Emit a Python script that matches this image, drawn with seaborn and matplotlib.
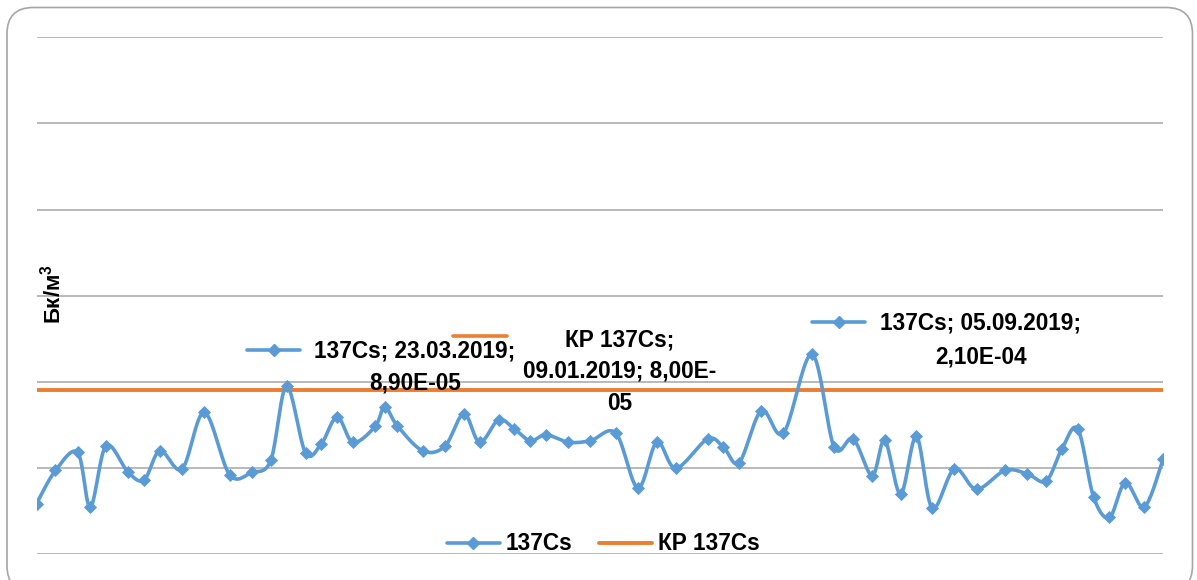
import numpy as np
import pandas as pd
import matplotlib
matplotlib.use("Agg")
import matplotlib.pyplot as plt
import matplotlib.dates as mdates
from matplotlib.patches import FancyBboxPatch
from matplotlib.lines import Line2D
import seaborn as sns

# ---------------- data ----------------
dates = ["2019-01-03", "2019-01-09", "2019-01-16", "2019-01-20", "2019-01-25",
         "2019-02-01", "2019-02-06", "2019-02-11", "2019-02-18", "2019-02-25",
         "2019-03-05", "2019-03-12", "2019-03-18", "2019-03-23", "2019-03-29",
         "2019-04-03", "2019-04-08", "2019-04-13", "2019-04-20", "2019-04-23",
         "2019-04-27", "2019-05-05", "2019-05-12", "2019-05-18", "2019-05-23",
         "2019-05-29", "2019-06-03", "2019-06-08", "2019-06-13", "2019-06-20",
         "2019-06-27", "2019-07-05", "2019-07-12", "2019-07-18", "2019-07-24",
         "2019-08-03", "2019-08-08", "2019-08-13", "2019-08-20", "2019-08-27",
         "2019-09-05", "2019-09-12", "2019-09-18", "2019-09-24", "2019-09-28",
         "2019-10-03", "2019-10-08", "2019-10-13", "2019-10-20", "2019-10-27",
         "2019-11-05", "2019-11-12", "2019-11-18", "2019-11-23", "2019-11-28",
         "2019-12-03", "2019-12-08", "2019-12-13", "2019-12-19", "2019-12-25"]
cs137 = [3.86e-6, 9.4e-6, 1.52e-5, 3.54e-6, 1.82e-5,
         8.9e-6, 7.3e-6, 1.59e-5, 9.8e-6, 4.43e-5,
         8.4e-6, 8.9e-6, 1.23e-5, 8.9e-5, 1.50e-5,
         1.92e-5, 3.92e-5, 1.99e-5, 3.05e-5, 5.12e-5,
         3.10e-5, 1.59e-5, 1.79e-5, 4.28e-5, 1.99e-5,
         3.64e-5, 2.84e-5, 2.08e-5, 2.44e-5, 2.0e-5,
         2.08e-5, 2.55e-5, 5.9e-6, 2.0e-5, 1.0e-5,
         2.18e-5, 1.76e-5, 1.16e-5, 4.63e-5, 2.55e-5,
         2.1e-4, 1.76e-5, 2.19e-5, 8.2e-6, 2.10e-5,
         5.0e-6, 2.33e-5, 3.44e-6, 9.8e-6, 5.7e-6,
         9.4e-6, 8.6e-6, 7.1e-6, 1.68e-5, 2.84e-5,
         4.6e-6, 2.68e-6, 6.8e-6, 3.54e-6, 1.29e-5]
kp_value = 8.0e-5
series_names = ["137Cs", "КР 137Cs"]
labels = ["137Cs; 23.03.2019;\n8,90E-05",
          "КР 137Cs;\n09.01.2019; 8,00E-\n05",
          "137Cs; 05.09.2019;\n2,10E-04"]
y_label = r"Бк/м$^{\mathbf{3}}$"

BLUE = "#5B9BD5"
ORANGE = "#ED7D31"

# ---------------- figure ----------------
W, H = 1197, 580
DPI = 100
sns.set_theme(style="white")
plt.rcParams["font.family"] = ["Liberation Sans", "DejaVu Sans"]
plt.rcParams["text.color"] = "black"
plt.rcParams["mathtext.fontset"] = "custom"
plt.rcParams["mathtext.bf"] = "Liberation Sans:bold"
plt.rcParams["mathtext.rm"] = "Liberation Sans"
fig = plt.figure(figsize=(W / DPI, H / DPI), dpi=DPI)

def fx(px):
    return px / W

def fy(py):
    return 1 - py / H

# chart border
border = FancyBboxPatch((fx(7), fy(592)), fx(1192.5) - fx(7), fy(7.5) - fy(592),
                        boxstyle="round,pad=0,rounding_size=0.022",
                        transform=fig.transFigure, facecolor="none",
                        edgecolor="#A6A6A6", linewidth=1.2, mutation_aspect=W / H,
                        zorder=-1)
fig.patches.append(border)

ax = fig.add_axes([fx(36.5), fy(554.3), fx(1163.3) - fx(36.5), fy(37.3) - fy(554.3)])
ax.set_facecolor("none")
ax.set_zorder(2)

df = pd.DataFrame({"date": pd.to_datetime(dates), "value": cs137})
xnum = mdates.date2num(df["date"])
ylog = np.log10(df["value"].to_numpy())

# Excel-like smoothed curve (Bezier through points in display space: x, log y)
def catmull(x, y, n=20):
    P = np.column_stack([x, y])
    P = np.vstack([P[0], P, P[-1]])
    out = []
    for i in range(1, len(P) - 2):
        p0, p1, p2, p3 = P[i - 1], P[i], P[i + 1], P[i + 2]
        c1 = p1 + (p2 - p0) / 6
        c2 = p2 - (p3 - p1) / 6
        t = np.linspace(0, 1, n, endpoint=(i == len(P) - 3))[:, None]
        b = ((1 - t) ** 3) * p1 + 3 * ((1 - t) ** 2) * t * c1 + 3 * (1 - t) * t ** 2 * c2 + t ** 3 * p2
        out.append(b)
    out = np.vstack(out)
    return out[:, 0], out[:, 1]

sx, sy = catmull(xnum, ylog)
smooth = pd.DataFrame({"date": mdates.num2date(sx), "value": 10 ** sy})

ax.set_yscale("log")
for dec in range(-6, 1):
    ax.axhline(10.0 ** dec, color="#A6A6A6", lw=1.1, zorder=0)

kp_df = pd.DataFrame({"date": [df["date"].iloc[0], df["date"].iloc[-1]], "value": [kp_value, kp_value]})
sns.lineplot(data=kp_df, x="date", y="value", ax=ax, color=ORANGE, lw=2.8, zorder=2)

sns.lineplot(data=smooth, x="date", y="value", ax=ax, color=BLUE, lw=2.6, zorder=3)
sns.scatterplot(data=df, x="date", y="value", ax=ax, color=BLUE, marker="D", s=45,
                edgecolor=BLUE, linewidth=0, zorder=4)

ax.set_xlim(xnum[0], xnum[-1])
ax.set_ylim(1e-6, 1)
ax.set_xlabel("")
ax.set_ylabel("")
ax.set_xticks([])
ax.set_yticks([])
ax.minorticks_off()
for s in ax.spines.values():
    s.set_visible(False)

# y label
fig.text(fx(53), fy(294), y_label, rotation=90, ha="center", va="center",
         fontsize=16, fontweight="bold", color="black")

FS = 16.3
def lab(xpx, ypx, s):
    fig.text(fx(xpx), fy(ypx), s, ha="center", va="center",
             fontsize=FS, fontweight="bold", color="black", zorder=5)

l0 = labels[0].split("\n")
lab(415, 351, l0[0]); lab(415, 383, l0[1])
l1 = labels[1].split("\n")
for i, ypx in enumerate([340, 371, 403]):
    lab(620, ypx, l1[i])
l2 = labels[2].split("\n")
lab(981, 323, l2[0]); lab(981, 357, l2[1])

def key(x0, x1, ypx, color, marker):
    fig.add_artist(Line2D([fx(x0), fx(x1)], [fy(ypx), fy(ypx)], transform=fig.transFigure,
                          color=color, lw=2.6))
    if marker:
        fig.add_artist(Line2D([fx((x0 + x1) / 2)], [fy(ypx)], transform=fig.transFigure,
                              color=color, marker="D", markersize=6, lw=0))

key(247, 300, 350, BLUE, True)
key(453, 507, 336, ORANGE, False)
key(812, 865, 322, BLUE, True)

handles = [Line2D([], [], color=BLUE, lw=2.6, marker="D", markersize=6),
           Line2D([], [], color=ORANGE, lw=2.8)]
fig.legend(handles, series_names, loc="center", bbox_to_anchor=(fx(603), fy(544)),
           ncol=2, frameon=False, prop={"size": FS, "weight": "bold"},
           handlelength=2.35, handletextpad=0.27, columnspacing=1.15, borderpad=0)

fig.savefig("out.png", dpi=DPI)
